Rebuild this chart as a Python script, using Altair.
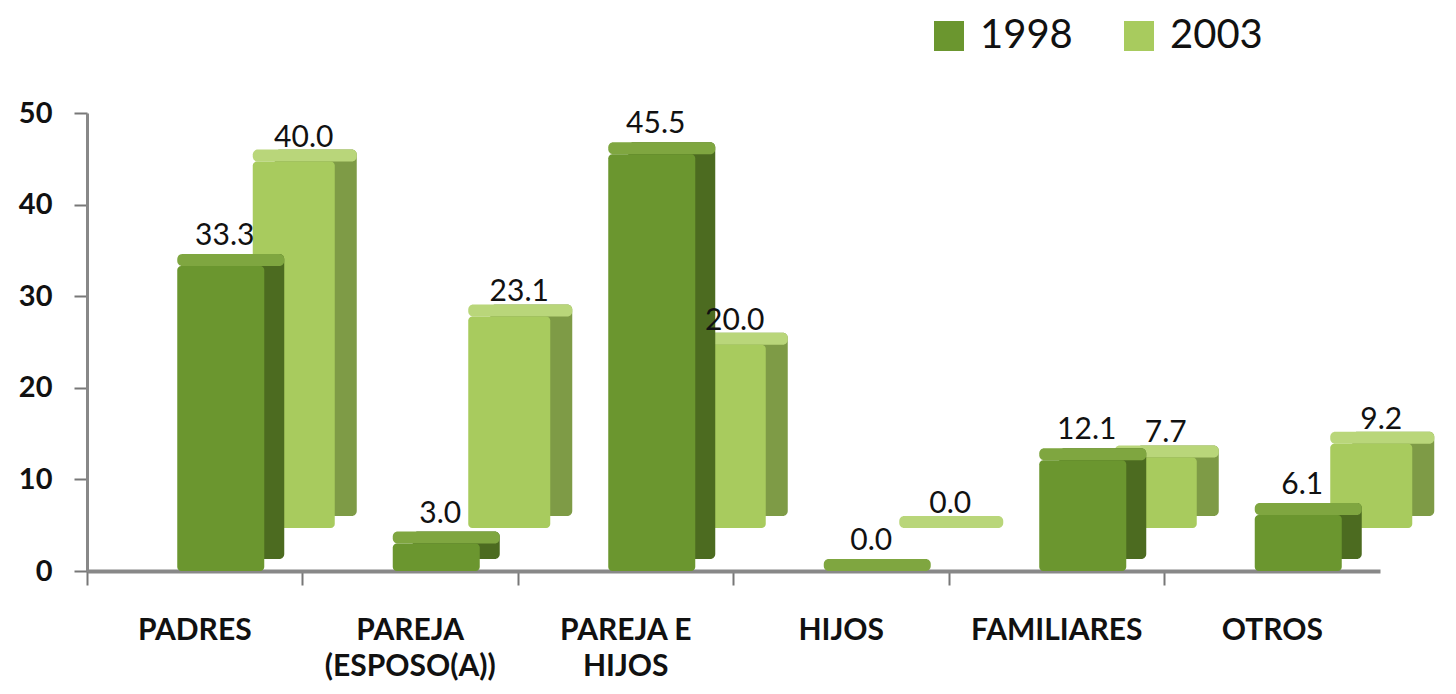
import altair as alt
import pandas as pd

categories = ["PADRES", "PAREJA (ESPOSO(A))", "PAREJA E HIJOS", "HIJOS", "FAMILIARES", "OTROS"]
values_1998 = [33.3, 3.0, 45.5, 0.0, 12.1, 6.1]
values_2003 = [40.0, 23.1, 20.0, 0.0, 7.7, 9.2]
series = ["1998", "2003"]

rows = []
for c, v in zip(categories, values_1998):
    rows.append({"cat": c, "serie": "1998", "valor": v, "label": f"{v:.1f}"})
for c, v in zip(categories, values_2003):
    rows.append({"cat": c, "serie": "2003", "valor": v, "label": f"{v:.1f}"})
df = pd.DataFrame(rows)

FONT = "Lato"
dark_front, dark_side, dark_top = "#6b962f", "#4c6b20", "#7fa640"
light_front, light_side, light_top = "#a8cb5e", "#7e9b46", "#b9d67a"

label_expr = ("datum.label == 'PAREJA (ESPOSO(A))' ? ['PAREJA', '(ESPOSO(A))'] : "
              "datum.label == 'PAREJA E HIJOS' ? ['PAREJA E', 'HIJOS'] : datum.label")

x_enc = alt.X("cat:N", sort=categories, title=None,
              scale=alt.Scale(domain=categories, paddingInner=0, paddingOuter=0),
              axis=alt.Axis(labelExpr=label_expr, labelAngle=0, labelFont=FONT,
                            labelFontSize=30, labelFontWeight="bold", labelColor="#111",
                            labelPadding=30, labelLineHeight=36, tickSize=14,
                            tickColor="#777", tickWidth=2, domainColor="#888",
                            domainWidth=4, bandPosition=0, labelBaseline="top"))
y_enc = alt.Y("valor:Q", title=None,
              scale=alt.Scale(domain=[0, 50]),
              axis=alt.Axis(values=[0, 10, 20, 30, 40, 50], grid=False, labelFont=FONT,
                            labelFontSize=29, labelFontWeight="bold", labelColor="#111",
                            labelPadding=22, tickSize=13, tickColor="#777", tickWidth=2,
                            domainColor="#888", domainWidth=3))

base = alt.Chart(df)

def bars(serie, w, dx, off, side, top, depth_x, depth_y, legend):
    d = base.transform_filter(alt.datum.serie == serie)
    back = d.mark_bar(width=w, xOffset=dx + depth_x, yOffset=off - depth_y,
                      y2Offset=off - depth_y, color=side, cornerRadius=5).encode(
        x=x_enc, y=y_enc, y2=alt.datum(0))
    topf = d.mark_bar(width=w + depth_x, xOffset=dx + depth_x / 2, yOffset=off - depth_y,
                      y2Offset=off, color=top, cornerRadius=5).encode(
        x=x_enc, y=y_enc, y2=alt.Y2("valor:Q"))
    frontf = d.mark_bar(width=w, xOffset=dx, yOffset=off, y2Offset=off,
                        cornerRadius=4).encode(
        x=x_enc, y=y_enc, y2=alt.datum(0),
        color=alt.Color("serie:N", scale=alt.Scale(domain=series, range=[dark_front, light_front]),
                        legend=legend))
    return [back, topf, frontf]

def labels(serie, dx, yoff):
    d = base.transform_filter(alt.datum.serie == serie)
    return d.mark_text(xOffset=dx, yOffset=yoff, baseline="bottom", font=FONT,
                       fontSize=30, color="#111").encode(
        x=x_enc, y=y_enc, text="label:N")

legend = alt.Legend(title=None, orient="none", direction="horizontal", legendX=842,
                    legendY=-97, symbolType="square", symbolSize=900, symbolStrokeWidth=0,
                    labelFont=FONT, labelFontSize=40, labelColor="#111", labelOffset=11,
                    columnPadding=46, symbolOpacity=1)

layers = (bars("2003", 82, 99, -43, light_side, light_top, 22, 12, legend)
          + bars("1998", 87, 26, 0, dark_side, dark_top, 20, 12, legend)
          + [labels("2003", 109, -52), labels("1998", 30, -15)])

chart = alt.layer(*layers).properties(
    width=1293, height=458,
    padding={"left": 10, "top": 8, "right": 0, "bottom": 5},
    background="white"
).configure_view(stroke=None)

chart.save("out.html", embed_options={"renderer": "svg", "actions": False})
